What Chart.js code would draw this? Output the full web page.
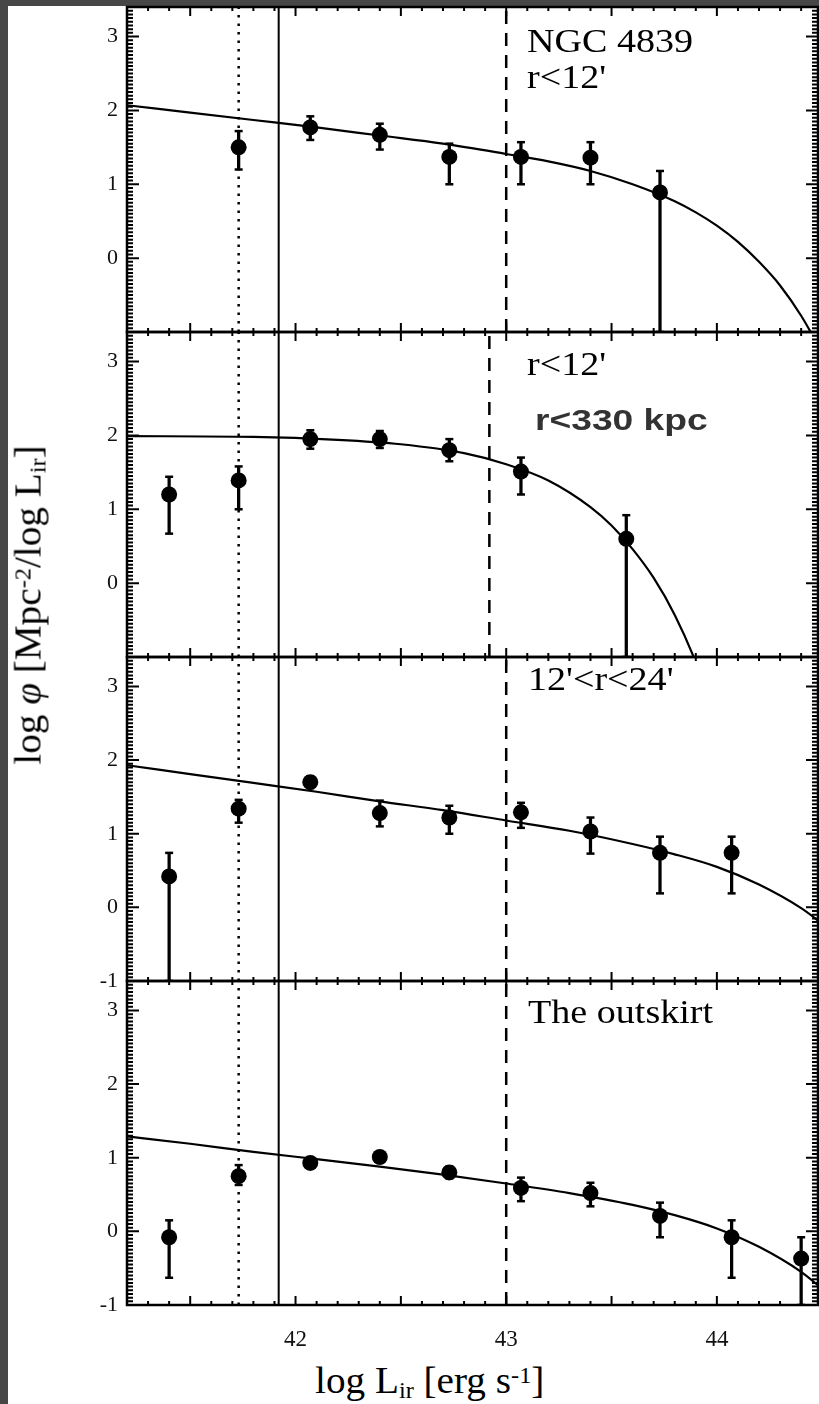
<!DOCTYPE html>
<html>
<head>
<meta charset="utf-8">
<script src="https://cdn.jsdelivr.net/npm/chart.js@4.4.1/dist/chart.umd.min.js"></script>
<style>
html, body { margin: 0; padding: 0; background: #474747; }
#page { position: relative; width: 819px; height: 1404px; background: #474747; overflow: hidden; }
#paper { position: absolute; left: 8px; top: 6px; right: 0; bottom: 0; background: #fff; }
canvas { position: absolute; left: 0; }
.lbl { position: absolute; font-family: "Liberation Serif", "Times New Roman", serif; color: #000; white-space: nowrap; line-height: 1; transform-origin: 0 0; }
.wide { transform: scaleX(1.12); }
.lbl sub, .lbl sup { font-size: 0.62em; vertical-align: baseline; position: relative; }
.lbl sub { top: 0.22em; }
.lbl sup { top: -0.42em; }
.sans { font-family: "Liberation Sans", Arial, sans-serif; font-weight: bold; color: #333; transform: scaleX(1.24); }
</style>
</head>
<body>
<div id="page">
  <div id="paper"></div>

  <div class="lbl wide" style="left:527px; top:23.5px; font-size:34px;">NGC 4839</div>
  <div class="lbl wide" style="left:527px; top:59.5px; font-size:34px;">r&lt;12'</div>
  <div class="lbl wide" style="left:527px; top:346.5px; font-size:34px;">r&lt;12'</div>
  <div class="lbl sans" style="left:535px; top:404.6px; font-size:30px;">r&lt;330 kpc</div>
  <div class="lbl wide" style="left:528px; top:661.5px; font-size:34px;">12'&lt;r&lt;24'</div>
  <div class="lbl wide" style="left:528px; top:994.5px; font-size:34px;">The outskirt</div>

  <div class="lbl" style="left:315px; top:1362px; font-size:37px; transform: scaleX(1.06);">log L<sub>ir</sub> [erg s<sup>-1</sup>]</div>
  <div class="lbl" style="left:28px; top:605px; font-size:37px; transform-origin: 50% 50%; transform: translate(-50%, -50%) rotate(-90deg) scaleX(1.06);">log <i>φ</i> [Mpc<sup>-2</sup>/log L<sub>ir</sub>]</div>
</div>

<script>
// Shared axes
const xMin = 41.2, xMax = 44.48;
const yMin = -1, yMax = 3.4;
const yTickValues = [-1, 0, 1, 2, 3];
const xTickValues = [42, 43, 44];
const dottedX = 41.73;
const solidX = 41.92;
const dashedX = [43.0, 42.92, 43.0, 43.0];

// Panel 1: NGC 4839 r<12'
const p1X  = [41.73, 42.07, 42.40, 42.73, 43.07, 43.40, 43.73];
const p1Y  = [1.50, 1.77, 1.67, 1.37, 1.37, 1.36, 0.89];
const p1Lo = [1.20, 1.60, 1.47, 1.00, 1.00, 1.00, -1.0];
const p1Hi = [1.72, 1.92, 1.82, 1.55, 1.57, 1.57, 1.18];
const fit1X = [41.2, 41.5, 41.8, 42.1, 42.4, 42.7, 43.0, 43.2, 43.4, 43.6, 43.8, 43.9, 44.0, 44.1, 44.2, 44.3, 44.4, 44.5];
const fit1Y = [2.07, 1.97, 1.87, 1.77, 1.66, 1.55, 1.41, 1.31, 1.18, 1.00, 0.77, 0.62, 0.44, 0.22, -0.05, -0.37, -0.78, -1.28];

// Panel 2: r<12' / r<330 kpc
const p2X  = [41.40, 41.73, 42.07, 42.40, 42.73, 43.07, 43.57];
const p2Y  = [1.20, 1.39, 1.95, 1.95, 1.80, 1.51, 0.60];
const p2Lo = [0.67, 1.00, 1.82, 1.83, 1.65, 1.20, -1.0];
const p2Hi = [1.44, 1.58, 2.07, 2.06, 1.95, 1.70, 0.92];
const fit2X = [41.2, 41.8, 42.2, 42.5, 42.8, 43.0, 43.2, 43.4, 43.5, 43.6, 43.7, 43.8, 43.9, 44.0];
const fit2Y = [1.99, 1.98, 1.94, 1.88, 1.76, 1.61, 1.39, 1.03, 0.78, 0.46, 0.07, -0.43, -1.07, -1.86];

// Panel 3: 12'<r<24'
const p3X  = [41.40, 41.73, 42.07, 42.40, 42.73, 43.07, 43.40, 43.73, 44.07];
const p3Y  = [0.42, 1.34, 1.70, 1.28, 1.22, 1.29, 1.03, 0.74, 0.74];
const p3Lo = [-1.0, 1.15, 1.62, 1.10, 1.00, 1.08, 0.73, 0.19, 0.19];
const p3Hi = [0.74, 1.46, 1.78, 1.45, 1.38, 1.42, 1.22, 0.96, 0.96];
const fit3X = [41.2, 41.5, 41.8, 42.1, 42.4, 42.7, 43.0, 43.3, 43.6, 43.8, 44.0, 44.2, 44.4, 44.5];
const fit3Y = [1.93, 1.81, 1.69, 1.57, 1.44, 1.32, 1.18, 1.04, 0.86, 0.72, 0.55, 0.31, -0.01, -0.22];

// Panel 4: the outskirt
const p4X  = [41.40, 41.73, 42.07, 42.40, 42.73, 43.07, 43.40, 43.73, 44.07, 44.40];
const p4Y  = [-0.08, 0.75, 0.93, 1.01, 0.80, 0.59, 0.52, 0.21, -0.08, -0.37];
const p4Lo = [-0.63, 0.63, 0.86, 0.95, 0.72, 0.41, 0.34, -0.08, -0.63, -1.0];
const p4Hi = [0.15, 0.90, 1.00, 1.07, 0.88, 0.73, 0.66, 0.39, 0.15, -0.08];
const fit4X = [41.2, 41.5, 41.8, 42.1, 42.4, 42.7, 43.0, 43.3, 43.6, 43.8, 44.0, 44.2, 44.4, 44.5];
const fit4Y = [1.29, 1.19, 1.08, 0.98, 0.88, 0.77, 0.65, 0.52, 0.36, 0.22, 0.04, -0.21, -0.55, -0.78];

const panels = [
    { x: p1X, y: p1Y, lo: p1Lo, hi: p1Hi, fitX: fit1X, fitY: fit1Y, minusOne: false },
    { x: p2X, y: p2Y, lo: p2Lo, hi: p2Hi, fitX: fit2X, fitY: fit2Y, minusOne: false },
    { x: p3X, y: p3Y, lo: p3Lo, hi: p3Hi, fitX: fit3X, fitY: fit3Y, minusOne: true },
    { x: p4X, y: p4Y, lo: p4Lo, hi: p4Hi, fitX: fit4X, fitY: fit4Y, minusOne: true }
];

const panelTop = [7, 332, 657, 981];
const panelBottom = [332, 657, 981, 1305];
const xAxisHeight = 45;
const padTop = 3, padBottom = 15;
const serif = "'Liberation Serif', 'Times New Roman', serif";

// Frame and inward ticks
const frameTicks = {
    id: "frameTicks",
    afterDatasetsDraw(chart) {
        const { ctx, chartArea: a } = chart;
        const xs = chart.scales.x, ys = chart.scales.y;
        ctx.save();
        ctx.strokeStyle = "#000";
        ctx.lineWidth = 2;
        ctx.beginPath();
        const ny = Math.round((yMax - yMin) * 20);
        for (let k = 0; k <= ny; k++) {
            const py = ys.getPixelForValue(yMin + k / 20);
            const len = k % 20 === 0 ? 12 : 6;
            ctx.moveTo(a.left, py); ctx.lineTo(a.left + len, py);
            ctx.moveTo(a.right, py); ctx.lineTo(a.right - len, py);
        }
        for (let k = 0; ; k++) {
            const v = xMin + k / 10;
            if (v > xMax) break;
            const px = xs.getPixelForValue(v);
            const len = Math.round(v * 10) % 5 === 0 ? 9 : 4;
            ctx.moveTo(px, a.bottom); ctx.lineTo(px, a.bottom - len);
            ctx.moveTo(px, a.top); ctx.lineTo(px, a.top + len);
        }
        ctx.stroke();
        ctx.lineWidth = 2.5;
        ctx.strokeRect(a.left, a.top, a.right - a.left, a.bottom - a.top);
        ctx.restore();
    }
};

function vline(x) {
    return [{ x: x, y: yMin }, { x: x, y: yMax }];
}

function panelConfig(p, i) {
    const last = i === panels.length - 1;
    const pts = p.x.map((x, k) => ({ x: x, y: p.y[k] }));
    const bars = p.x.map((x, k) => ({ x: x, y: [p.lo[k], p.hi[k]] }));
    const caps = p.x.map((x, k) => ({ x: x, y: p.hi[k] }))
        .concat(p.x.map((x, k) => ({ x: x, y: p.lo[k] })));
    const fit = p.fitX.map((x, k) => ({ x: x, y: p.fitY[k] }));

    let config = {
        type: "scatter"
    };

    config["data"] = {
        datasets: [
            { type: "scatter", data: pts, pointRadius: 8, pointHoverRadius: 8, backgroundColor: "#000", borderWidth: 0, order: 0 },
            { type: "scatter", data: caps, pointStyle: "line", pointRadius: 4, borderColor: "#000", borderWidth: 2.5, order: 1 },
            { type: "bar", data: bars, barThickness: 2.6, backgroundColor: "#000", borderWidth: 0, grouped: false, order: 2 },
            { type: "line", data: fit, borderColor: "#000", borderWidth: 2.2, pointRadius: 0, cubicInterpolationMode: "monotone", order: 3 },
            { type: "line", data: vline(dottedX), borderColor: "#000", borderWidth: 2.5, borderDash: [2.5, 6], pointRadius: 0, order: 4 },
            { type: "line", data: vline(solidX), borderColor: "#000", borderWidth: 2, pointRadius: 0, order: 4 },
            { type: "line", data: vline(dashedX[i]), borderColor: "#000", borderWidth: 2.5, borderDash: [13, 9], pointRadius: 0, order: 4 }
        ]
    };

    config["options"] = {
        responsive: false,
        animation: false,
        events: [],
        layout: { autoPadding: false, padding: { top: padTop, bottom: last ? 0 : padBottom, left: 0, right: 1 } },
        scales: {
            x: {
                type: "linear",
                min: xMin,
                max: xMax,
                offset: false,
                display: last,
                afterBuildTicks: s => { s.ticks = xTickValues.map(v => ({ value: v })); },
                afterFit: s => {
                    s.height = last ? xAxisHeight : 0;
                    s.paddingLeft = 0; s.paddingRight = 0;
                },
                grid: { display: false, drawTicks: false },
                border: { display: false },
                ticks: { color: "#111", padding: 21, font: { family: serif, size: 23 } }
            },
            y: {
                type: "linear",
                min: yMin,
                max: yMax,
                afterBuildTicks: s => { s.ticks = yTickValues.map(v => ({ value: v })); },
                afterFit: s => {
                    s.width = 127;
                    s.paddingTop = 0; s.paddingBottom = 0;
                },
                grid: { display: false, drawTicks: false },
                border: { display: false },
                ticks: {
                    color: "#111",
                    padding: 9,
                    font: { family: serif, size: 22 },
                    callback: v => (v === -1 && !p.minusOne) ? "" : String(v)
                }
            }
        },
        plugins: {
            legend: { display: false },
            tooltip: { enabled: false }
        }
    };

    return config;
}

const page = document.getElementById("page");
panels.forEach((p, i) => {
    const last = i === panels.length - 1;
    const canvas = document.createElement("canvas");
    const top = panelTop[i] - padTop;
    const height = (panelBottom[i] - top) + (last ? xAxisHeight : padBottom);
    canvas.width = 819;
    canvas.height = height;
    canvas.style.top = top + "px";
    canvas.style.width = "819px";
    canvas.style.height = height + "px";
    page.insertBefore(canvas, page.children[1]);
    new Chart(canvas, Object.assign(panelConfig(p, i), { plugins: [frameTicks] }));
});
</script>
</body>
</html>
